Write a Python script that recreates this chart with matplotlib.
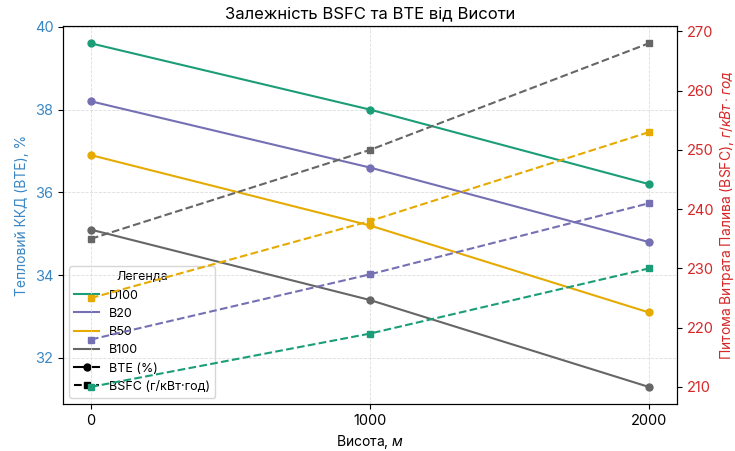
import matplotlib
matplotlib.use("Agg")
import matplotlib.pyplot as plt
from matplotlib.lines import Line2D

plt.rcParams['font.family'] = ['Inter', 'DejaVu Sans']
plt.rcParams['mathtext.fontset'] = 'custom'
plt.rcParams['mathtext.rm'] = 'Inter'
plt.rcParams['mathtext.it'] = 'Inter:italic'

altitude = [0, 1000, 2000]
fuels = ["D100", "B20", "B50", "B100"]
colors = ["#1b9e77", "#7570b3", "#e6ab02", "#666666"]
bte = {
    "D100": [39.6, 38.0, 36.2],
    "B20": [38.2, 36.6, 34.8],
    "B50": [36.9, 35.2, 33.1],
    "B100": [35.1, 33.4, 31.3],
}
bsfc = {
    "D100": [210, 219, 230],
    "B20": [218, 229, 241],
    "B50": [225, 238, 253],
    "B100": [235, 250, 268],
}

left_color = "#3a87c4"
right_color = "#d62728"

fig = plt.figure(figsize=(7.35, 4.51), dpi=100)
ax1 = fig.add_axes([0.0857, 0.104, 0.835, 0.838])
ax2 = ax1.twinx()

for f, c in zip(fuels, colors):
    ax1.plot(altitude, bte[f], color=c, marker='o', markersize=5, linewidth=1.5)
    ax2.plot(altitude, bsfc[f], color=c, marker='s', markersize=5, linewidth=1.5, linestyle='--')

ax1.set_xticks(altitude)
ax1.grid(True, linestyle='--', color='#dddddd', linewidth=0.6)
ax1.set_xlabel(r"Висота, $м$", fontsize=10)
ax1.set_ylabel("Тепловий ККД (BTE), %", color=left_color, fontsize=10)
ax2.set_ylabel(r"Питома Витрата Палива (BSFC), $г/кВт \cdot год$", color=right_color, fontsize=10, labelpad=3)
ax1.tick_params(axis='y', labelcolor=left_color, labelsize=10.5)
ax2.tick_params(axis='y', labelcolor=right_color, labelsize=10.5)
ax1.tick_params(axis='x', labelsize=10.5)
ax1.set_title("Залежність BSFC та BTE від Висоти", fontsize=12)

handles = [Line2D([0], [0], color=c, linewidth=1.5) for c in colors]
handles.append(Line2D([0], [0], color='black', marker='o', markersize=5, linewidth=1.5))
handles.append(Line2D([0], [0], color='black', marker='s', markersize=5, linewidth=1.5, linestyle='--'))
labels = fuels + ["BTE (%)", "BSFC (г/кВт·год)"]
leg = ax1.legend(handles, labels, title="Легенда", loc='lower left', fontsize=9, title_fontsize=9)
leg.set_zorder(1)

fig.savefig("out.png", dpi=100)
